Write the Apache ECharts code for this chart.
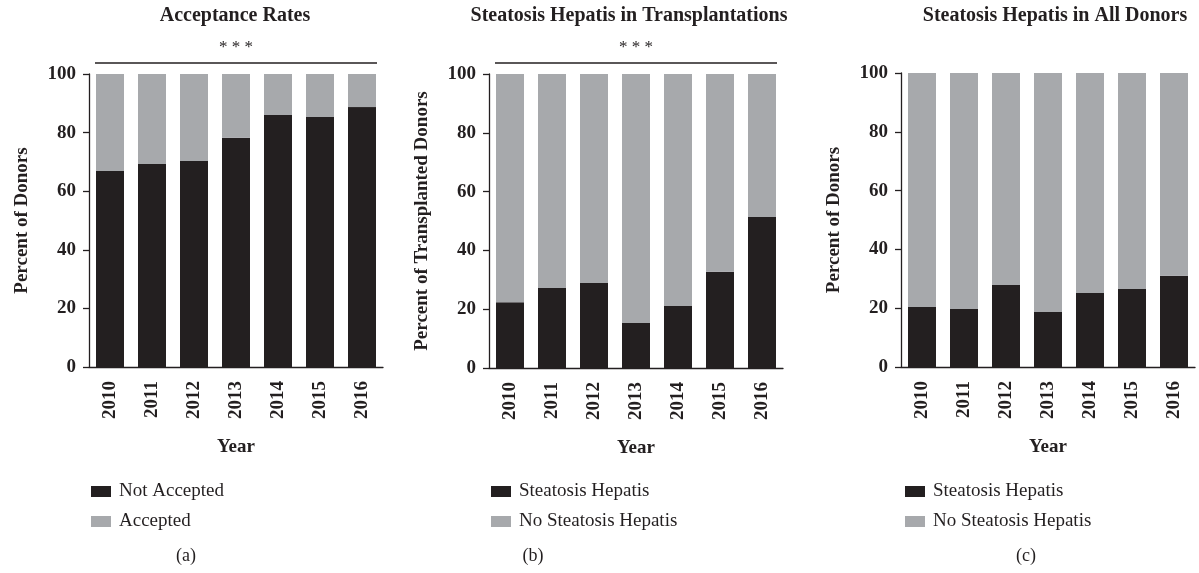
<!DOCTYPE html>
<html>
<head>
<meta charset="utf-8">
<script src="https://cdn.jsdelivr.net/npm/echarts@6/dist/echarts.min.js"></script>
<style>
  html, body { margin: 0; padding: 0; background: #fff; }
  #chart { width: 1199px; height: 573px; }
</style>
</head>
<body>
<div id="chart"></div>
<script>
// data (percent of donors)
const years = ['2010', '2011', '2012', '2013', '2014', '2015', '2016'];
const notAccepted = [66.9, 69.3, 70.3, 78.2, 86.0, 85.3, 88.7];
const accepted = [33.1, 30.7, 29.7, 21.8, 14.0, 14.7, 11.3];
const steatosisTx = [22.4, 27.2, 28.9, 15.3, 21.1, 32.7, 51.4];
const noSteatosisTx = [77.6, 72.8, 71.1, 84.7, 78.9, 67.3, 48.6];
const steatosisAll = [20.4, 19.7, 27.9, 18.7, 25.2, 26.5, 31.0];
const noSteatosisAll = [79.6, 80.3, 72.1, 81.3, 74.8, 73.5, 69.0];

const panelTitles = ['Acceptance Rates', 'Steatosis Hepatis in Transplantations', 'Steatosis Hepatis in All Donors'];
const yNames = ['Percent of Donors', 'Percent of Transplanted Donors', 'Percent of Donors'];
const panelTags = ['(a)', '(b)', '(c)'];

const DARK = '#231f20';
const GREY = '#a7a9ac';
const FONT = 'Liberation Serif';

// layout of the three panels
const grids = [
  { left: 89, top: 74, width: 294, height: 293 },
  { left: 489, top: 74, width: 294, height: 294 },
  { left: 901, top: 73, width: 294, height: 294 }
];

const chart = echarts.init(document.getElementById('chart'));

function xAxisFor(i) {
  return {
    type: 'category',
    gridIndex: i,
    data: years,
    name: 'Year',
    nameLocation: 'middle',
    nameGap: 71,
    nameTextStyle: { fontSize: 19, fontWeight: 'bold', color: DARK, fontFamily: FONT },
    axisLine: { lineStyle: { color: DARK, width: 1.3 } },
    axisTick: { alignWithLabel: true, length: 6, lineStyle: { color: DARK, width: 1.3 } },
    axisLabel: { rotate: 90, fontSize: 19, fontWeight: 'bold', color: DARK, margin: 14, fontFamily: FONT }
  };
}

function yAxisFor(i) {
  return {
    type: 'value',
    gridIndex: i,
    min: 0,
    max: 100,
    interval: 20,
    name: yNames[i],
    nameLocation: 'middle',
    nameRotate: 90,
    nameGap: 57,
    nameTextStyle: { fontSize: 19, fontWeight: 'bold', color: DARK, fontFamily: FONT },
    splitLine: { show: false },
    axisLine: { show: true, lineStyle: { color: DARK, width: 1.3 } },
    axisTick: { show: true, length: 6, lineStyle: { color: DARK, width: 1.3 } },
    axisLabel: { fontSize: 19, fontWeight: 'bold', color: DARK, margin: 13, fontFamily: FONT }
  };
}

function barSeries(name, data, i, color) {
  return {
    name: name,
    type: 'bar',
    stack: 'p' + i,
    xAxisIndex: i,
    yAxisIndex: i,
    barWidth: 28,
    itemStyle: { color: color },
    data: data
  };
}

function legendFor(names, left) {
  return {
    orient: 'vertical',
    left: left,
    top: 477,
    icon: 'rect',
    itemWidth: 20,
    itemHeight: 11,
    itemGap: 11,
    data: names,
    selectedMode: false,
    textStyle: { fontSize: 19, color: DARK, fontFamily: FONT, padding: [0, 0, 0, 3] }
  };
}

const option = {
  animation: false,
  textStyle: { fontFamily: FONT },
  grid: grids,
  xAxis: [xAxisFor(0), xAxisFor(1), xAxisFor(2)],
  yAxis: [yAxisFor(0), yAxisFor(1), yAxisFor(2)],
  legend: [
    legendFor(['Not Accepted', 'Accepted'], 86),
    legendFor(['Steatosis Hepatis', 'No Steatosis Hepatis'], 486),
    legendFor(['Steatosis Hepatis', 'No Steatosis Hepatis'], 900)
  ],
  series: [
    barSeries('Not Accepted', notAccepted, 0, DARK),
    barSeries('Accepted', accepted, 0, GREY),
    barSeries('Steatosis Hepatis', steatosisTx, 1, DARK),
    barSeries('No Steatosis Hepatis', noSteatosisTx, 1, GREY),
    barSeries('Steatosis Hepatis', steatosisAll, 2, DARK),
    barSeries('No Steatosis Hepatis', noSteatosisAll, 2, GREY)
  ]
};

chart.setOption(option);

// titles, significance brackets and panel tags
const graphics = [];
const titleX = [235, 629, 1055];
const tagX = [186, 533, 1026];
for (let i = 0; i < 3; i++) {
  graphics.push({
    type: 'text',
    x: titleX[i],
    y: 6,
    style: { text: panelTitles[i], fill: DARK, font: 'bold 20px "' + FONT + '"', textAlign: 'center' }
  });
  graphics.push({
    type: 'text',
    x: tagX[i],
    y: 547,
    style: { text: panelTags[i], fill: DARK, font: '18px "' + FONT + '"', textAlign: 'center' }
  });
}

// *** brackets for panels a and b
[0, 1].forEach(i => {
  const p0 = chart.convertToPixel({ gridIndex: i }, [0, 100]);
  const p1 = chart.convertToPixel({ gridIndex: i }, [6, 100]);
  const half = 15;
  const yLine = p0[1] - 11;
  graphics.push({
    type: 'line',
    shape: { x1: p0[0] - half, y1: yLine, x2: p1[0] + half, y2: yLine },
    style: { stroke: DARK, lineWidth: 1.5 }
  });
  graphics.push({
    type: 'text',
    x: (p0[0] + p1[0]) / 2,
    y: yLine - 24,
    style: { text: '* * *', fill: DARK, font: '17px "' + FONT + '"', textAlign: 'center' }
  });
});

chart.setOption({ graphic: graphics });
</script>
</body>
</html>
